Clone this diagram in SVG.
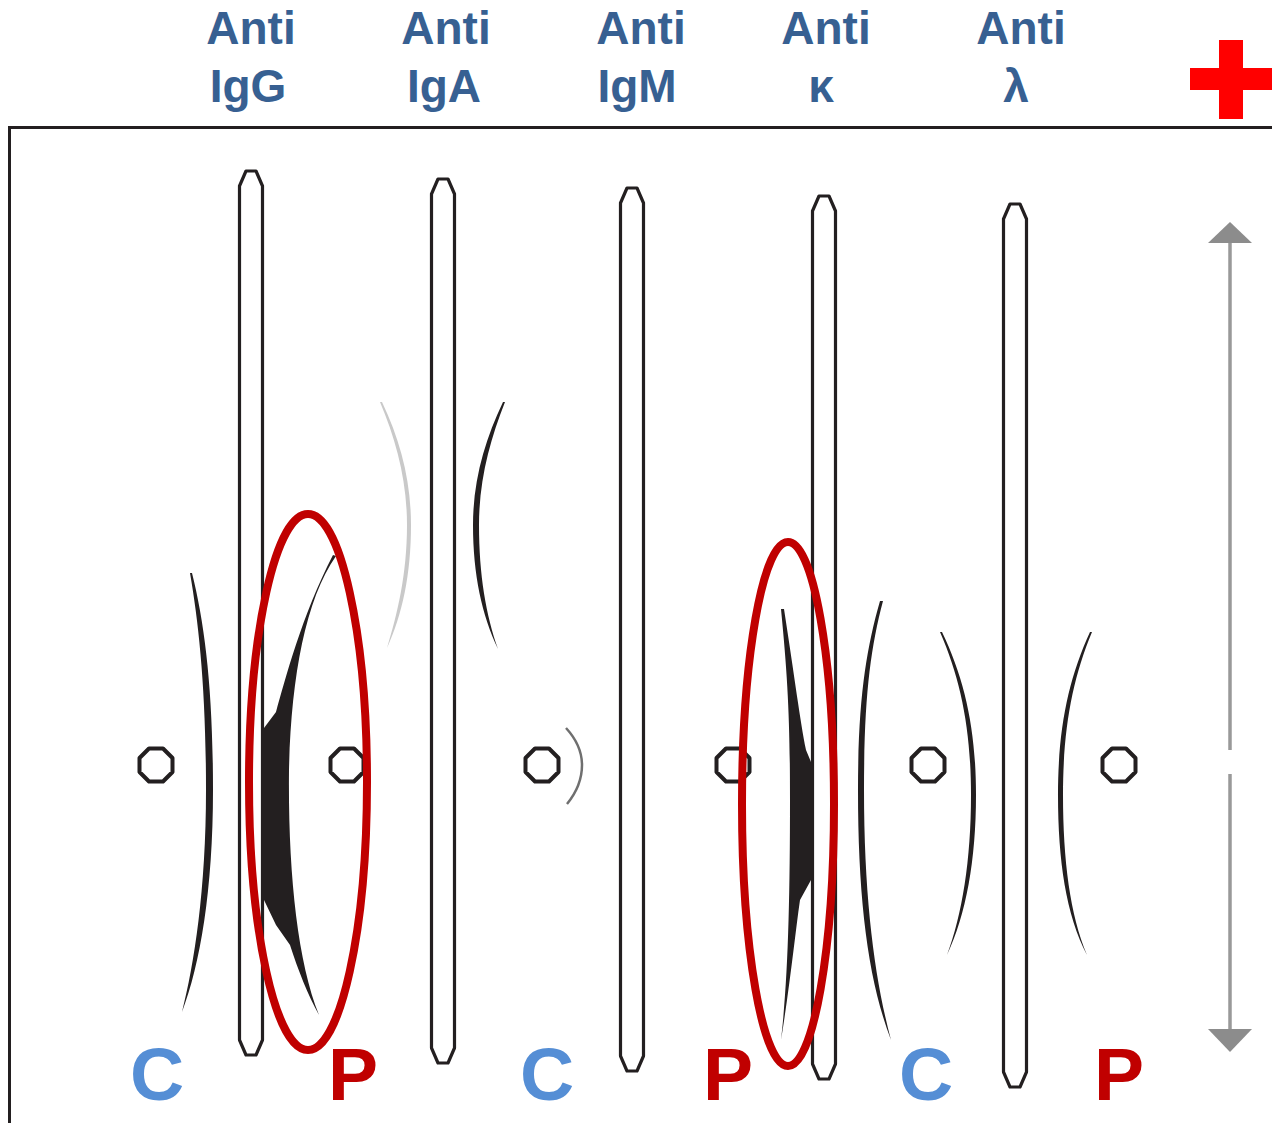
<svg xmlns="http://www.w3.org/2000/svg" width="1272" height="1123" viewBox="0 0 1272 1123">
  <style>
    .hdr { font-family: "Liberation Sans", Arial, sans-serif; font-weight: bold; font-size: 46px; fill: #376092; text-anchor: middle; }
    .lbl { font-family: "Liberation Sans", Arial, sans-serif; font-weight: bold; font-size: 75px; text-anchor: middle; }
    .c { fill: #558ed5; }
    .p { fill: #c00000; }
    .trough { fill: none; stroke: #231f20; stroke-width: 3.2; stroke-linejoin: round; }
    .well { fill: none; stroke: #231f20; stroke-width: 4; stroke-linejoin: round; }
    .arc { fill: #231f20; stroke: none; }
    .ring { fill: none; stroke: #c00000; stroke-width: 8; }
  </style>
  <defs>
    <polygon id="oct" points="7,-16.5 16.5,-7 16.5,7 7,16.5 -7,16.5 -16.5,7 -16.5,-7 -7,-16.5"/>
  </defs>

  <rect width="1272" height="1123" fill="#ffffff"/>

  <!-- antiserum headings -->
  <g id="headings">
    <text class="hdr" x="251" y="44">Anti</text>
    <text class="hdr" x="248" y="102">IgG</text>
    <text class="hdr" x="446" y="44">Anti</text>
    <text class="hdr" x="444" y="102">IgA</text>
    <text class="hdr" x="641" y="44">Anti</text>
    <text class="hdr" x="637" y="102">IgM</text>
    <text class="hdr" x="826" y="44">Anti</text>
    <text class="hdr" x="821" y="102">κ</text>
    <text class="hdr" x="1021" y="44">Anti</text>
    <text class="hdr" x="1016" y="102">λ</text>
  </g>

  <!-- anode sign -->
  <g id="anode" fill="#ff0000">
    <rect x="1219" y="40" width="24" height="79"/>
    <rect x="1190" y="68" width="82" height="22"/>
  </g>

  <!-- gel frame -->
  <g id="frame" fill="none" stroke="#231f20" stroke-width="3">
    <path d="M9.5,1123 V127.5 H1272"/>
  </g>

  <!-- antiserum troughs -->
  <g id="troughs">
    <path id="trough-igg" class="trough" d="M239.5,186 L246,171 L256,171 L262.5,186 V1040 L256,1055 L246,1055 L239.5,1040 Z"/>
    <path id="trough-iga" class="trough" d="M431.5,194 L438,179 L448,179 L454.5,194 V1048 L448,1063 L438,1063 L431.5,1048 Z"/>
    <path id="trough-igm" class="trough" d="M620.5,203 L627,188 L637,188 L643.5,203 V1056 L637,1071 L627,1071 L620.5,1056 Z"/>
    <path id="trough-kappa" class="trough" d="M812.5,211 L819,196 L829,196 L835.5,211 V1064 L829,1079 L819,1079 L812.5,1064 Z"/>
    <path id="trough-lambda" class="trough" d="M1003.5,219 L1010,204 L1020,204 L1026.5,219 V1072 L1020,1087 L1010,1087 L1003.5,1072 Z"/>
  </g>

  <!-- sample wells -->
  <g id="wells">
    <use class="well" href="#oct" x="156" y="765"/>
    <use class="well" href="#oct" x="347" y="765"/>
    <use class="well" href="#oct" x="542" y="765"/>
    <use class="well" href="#oct" x="733" y="765"/>
    <use class="well" href="#oct" x="928" y="765"/>
    <use class="well" href="#oct" x="1119" y="765"/>
  </g>

  <!-- precipitin arcs -->
  <g id="arcs">
    <path class="arc" d="M192,573 C205,625 213,690 213,790 C213,890 200,965 182,1012 C194,965 206,890 206,790 C206,690 199,625 190,573 Z"/>
    <path class="arc" d="M336,556 C305,600 291,680 289,770 C288,870 297,960 319,1015 C308,995 298,970 290,945 L276,925 L264,900 L264,728 L276,712 C285,680 302,615 333,555 Z"/>
    <path fill="#c9c9c9" d="M382,402 C400,440 411,480 411,525 C411,575 402,615 387,648 C397,615 407,575 407,525 C407,480 396,440 380,402 Z"/>
    <path class="arc" d="M503,402 C485,440 473,480 473,525 C473,575 482,615 498,649 C486,615 479,575 479,525 C479,480 490,440 505,402 Z"/>
    <path fill="none" stroke="#6f6f6f" stroke-width="2.5" d="M566,728 C577,740 582,752 582,765 C582,780 576,793 567,804"/>
    <path class="arc" d="M781,609 C788,680 790,720 790,800 C790,900 788,980 781,1040 C790,985 795,935 800,900 L811,880 L811,762 L806,750 C800,720 795,680 784,609 Z"/>
    <path class="arc" d="M880,601 C866,650 858,700 858,790 C858,900 868,980 891,1040 C875,980 864,900 864,790 C864,700 870,650 883,601 Z"/>
    <path class="arc" d="M942,632 C965,680 976,730 976,795 C976,860 966,915 947,955 C962,915 971,860 971,795 C971,730 961,680 940,632 Z"/>
    <path class="arc" d="M1090,632 C1068,680 1058,730 1058,795 C1058,860 1066,915 1087,955 C1070,915 1063,860 1063,795 C1063,730 1072,680 1092,632 Z"/>
  </g>

  <!-- highlighted monoclonal bands -->
  <g id="highlights">
    <ellipse class="ring" cx="308" cy="782" rx="59" ry="268"/>
    <ellipse class="ring" cx="788" cy="804" rx="46" ry="262"/>
  </g>

  <!-- migration direction -->
  <g id="migration" fill="#8c8c8c">
    <path d="M1230,243 V750 M1230,774 V1029" stroke="#999999" stroke-width="3.5" fill="none"/>
    <polygon points="1230,222 1252,243 1208,243"/>
    <polygon points="1230,1052 1252,1029 1208,1029"/>
  </g>

  <!-- control / patient labels -->
  <g id="labels">
    <text class="lbl c" x="157" y="1100">C</text>
    <text class="lbl p" x="353" y="1100">P</text>
    <text class="lbl c" x="547" y="1100">C</text>
    <text class="lbl p" x="728" y="1100">P</text>
    <text class="lbl c" x="926" y="1100">C</text>
    <text class="lbl p" x="1119" y="1100">P</text>
  </g>
</svg>
